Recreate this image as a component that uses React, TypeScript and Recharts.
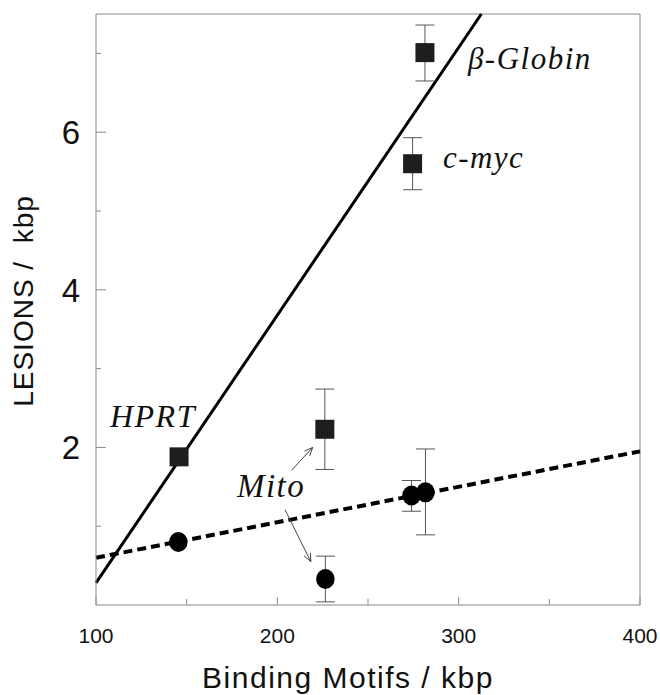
import React from 'react'
import {
  ComposedChart,
  Scatter,
  XAxis,
  YAxis,
  ErrorBar,
  ReferenceLine,
  ReferenceDot,
} from 'recharts'

// binding motifs (kbp) vs lesions (kbp)
const xTicks = [100, 150, 200, 250, 300, 350, 400]
const xLabelTicks = [100, 200, 300, 400]
const yTicks = [1, 2, 3, 4, 5, 6, 7]
const yLabelTicks = [2, 4, 6]

// squares: HPRT, Mito, c-myc, beta-Globin
const squareX = [145.8, 226.2, 274.6, 281.4]
const squareY = [1.88, 2.23, 5.6, 7.01]
const squareErrLow = [null, 0.51, 0.33, 0.36]
const squareErrHigh = [null, 0.51, 0.33, 0.35]

// circles
const circleX = [145.4, 226.5, 274.0, 281.7]
const circleY = [0.8, 0.33, 1.39, 1.43]
const circleErrLow = [null, 0.29, 0.2, 0.54]
const circleErrHigh = [null, 0.29, 0.19, 0.55]

// fitted lines, end points
const solidFit = [{ x: 100, y: 0.28 }, { x: 312.5, y: 7.5 }]
const dashedFit = [{ x: 100, y: 0.6 }, { x: 400, y: 1.95 }]

const SANS = '"Liberation Sans", Arial, sans-serif'
const SERIF = '"Liberation Serif", "Times New Roman", serif'
const AXIS = '#8a8a8a'

const build = (xs: number[], ys: number[], lo: (number | null)[], hi: (number | null)[]) =>
  xs.map((x, i) => ({
    x,
    y: ys[i],
    err: lo[i] == null ? undefined : [lo[i], hi[i]],
  }))

const squares = build(squareX, squareY, squareErrLow, squareErrHigh)
const circles = build(circleX, circleY, circleErrLow, circleErrHigh)

const SquareMark = (props: any) => {
  const { cx, cy } = props
  return <rect x={cx - 9.5} y={cy - 9.5} width={19} height={19} fill="#1e1e1e" />
}

const CircleMark = (props: any) => {
  const { cx, cy } = props
  return <ellipse cx={cx} cy={cy} rx={9.3} ry={10} fill="#000" />
}

const XTick = (props: any) => {
  const { x, y, payload } = props
  const major = xLabelTicks.includes(payload.value)
  return (
    <g>
      <line x1={x} x2={x} y1={y} y2={y - (major ? 8 : 6)} stroke={AXIS} strokeWidth={1} />
      {major && (
        <text x={x} y={y + 38} textAnchor="middle" fontSize={21} fontFamily={SANS} fill="#111">
          {payload.value}
        </text>
      )}
    </g>
  )
}

const YTick = (props: any) => {
  const { x, y, payload } = props
  const major = yLabelTicks.includes(payload.value)
  return (
    <g>
      <line x1={x} x2={x + (major ? 10 : 5)} y1={y} y2={y} stroke={AXIS} strokeWidth={1} />
      {major && (
        <text x={x - 16} y={y + 12} textAnchor="end" fontSize={33} fontFamily={SANS} fill="#111">
          {payload.value}
        </text>
      )}
    </g>
  )
}

const XTitle = () => (
  <text x={348} y={688} textAnchor="middle" fontSize={30} letterSpacing={1.5} fontFamily={SANS} fill="#111">
    Binding Motifs / kbp
  </text>
)

const YTitle = () => (
  <text
    x={33}
    y={301}
    transform="rotate(-90 33 301)"
    textAnchor="middle"
    fontSize={28}
    letterSpacing={1}
    fontFamily={SANS}
    fill="#111"
    style={{ whiteSpace: 'pre' }}
  >
    {'LESIONS /  kbp'}
  </text>
)

const Annot = (props: any) => {
  const { viewBox, text, size } = props
  return (
    <text x={viewBox.x} y={viewBox.y} fontSize={size} fontStyle="italic" fontFamily={SERIF} letterSpacing={1.5} fill="#111">
      {text}
    </text>
  )
}

const Arrow = (props: any) => {
  const { x1, y1, x2, y2 } = props
  const a = Math.atan2(y2 - y1, x2 - x1)
  const len = 9
  const spread = 0.4
  return (
    <g>
      <line x1={x1} y1={y1} x2={x2} y2={y2} stroke="#444" strokeWidth={1} />
      <line x1={x2} y1={y2} x2={x2 - len * Math.cos(a - spread)} y2={y2 - len * Math.sin(a - spread)} stroke="#444" strokeWidth={1} />
      <line x1={x2} y1={y2} x2={x2 - len * Math.cos(a + spread)} y2={y2 - len * Math.sin(a + spread)} stroke="#444" strokeWidth={1} />
    </g>
  )
}

export default function App() {
  return (
    <div style={{ position: 'absolute', left: 0, top: 0, background: '#fff' }}>
      <ComposedChart width={660} height={695} margin={{ top: 14, right: 20, bottom: 0, left: 0 }}>
        <XAxis
          dataKey="x"
          type="number"
          domain={[100, 400]}
          ticks={xTicks}
          interval={0}
          allowDataOverflow
          height={90}
          axisLine={{ stroke: AXIS, strokeWidth: 1 }}
          tickLine={false}
          tickSize={0}
          tickMargin={0}
          tick={<XTick />}
          label={<XTitle />}
        />
        <YAxis
          dataKey="y"
          type="number"
          domain={[0, 7.5]}
          ticks={yTicks}
          interval={0}
          allowDataOverflow
          width={96}
          axisLine={{ stroke: AXIS, strokeWidth: 1 }}
          tickLine={false}
          tickSize={0}
          tickMargin={0}
          tick={<YTick />}
          label={<YTitle />}
        />
        <ReferenceLine y={7.5} stroke={AXIS} strokeWidth={1} />
        <ReferenceLine x={400} stroke={AXIS} strokeWidth={1} />

        <ReferenceLine segment={solidFit} stroke="#000" strokeWidth={3} />
        <ReferenceLine segment={dashedFit} stroke="#000" strokeWidth={4} strokeDasharray="9 5" />

        <Scatter data={squares} shape={<SquareMark />} isAnimationActive={false}>
          <ErrorBar dataKey="err" direction="y" width={9.5} stroke="#555" strokeWidth={1} />
        </Scatter>
        <Scatter data={circles} shape={<CircleMark />} isAnimationActive={false}>
          <ErrorBar dataKey="err" direction="y" width={9.5} stroke="#555" strokeWidth={1} />
        </Scatter>

        <ReferenceLine segment={[{ x: 207.9, y: 1.71 }, { x: 219.5, y: 2.0 }]} shape={<Arrow />} />
        <ReferenceLine segment={[{ x: 204.2, y: 1.21 }, { x: 218.5, y: 0.55 }]} shape={<Arrow />} />

        <ReferenceDot x={305.1} y={6.8} r={0} stroke="none" label={<Annot text="β-Globin" size={31} />} />
        <ReferenceDot x={291.3} y={5.55} r={0} stroke="none" label={<Annot text="c-myc" size={31} />} />
        <ReferenceDot x={107.7} y={2.26} r={0} stroke="none" label={<Annot text="HPRT" size={32} />} />
        <ReferenceDot x={177.7} y={1.37} r={0} stroke="none" label={<Annot text="Mito" size={33} />} />
      </ComposedChart>
    </div>
  )
}
